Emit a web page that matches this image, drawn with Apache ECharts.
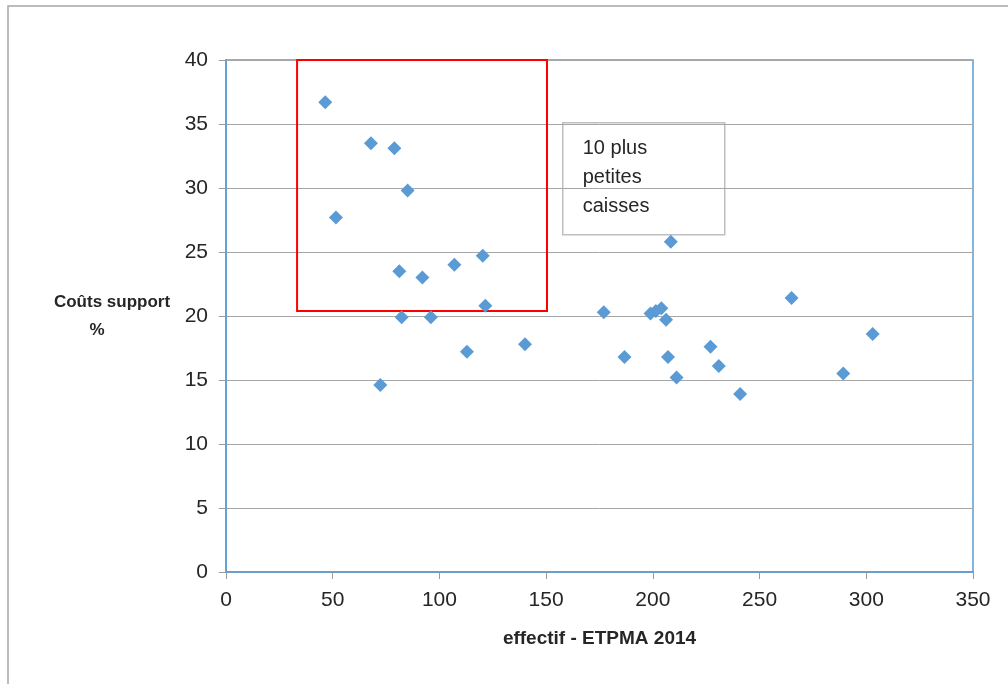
<!DOCTYPE html>
<html>
<head>
<meta charset="utf-8">
<script src="https://cdn.jsdelivr.net/npm/echarts@6/dist/echarts.min.js"></script>
<style>
  html, body { margin: 0; padding: 0; background: #ffffff; }
  #chart { width: 1008px; height: 684px; }
</style>
</head>
<body>
<div id="chart"></div>
<script>
// Effectif (ETPMA 2014) per caisse
const effectif = [
  46.5, 67.9, 78.9, 85.1, 51.5, 81.2, 92.0, 107.0, 120.3, 121.5,
  82.3, 96.0, 72.3, 112.9, 140.1, 177.0, 186.7, 198.9, 201.4, 204.0,
  206.2, 208.4, 207.1, 211.1, 227.0, 230.9, 240.9, 265.0, 289.2, 303.0
];
// Coûts support (%) per caisse
const coutsSupport = [
  36.7, 33.5, 33.1, 29.8, 27.7, 23.5, 23.0, 24.0, 24.7, 20.8,
  19.9, 19.9, 14.6, 17.2, 17.8, 20.3, 16.8, 20.2, 20.4, 20.6,
  19.7, 25.8, 16.8, 15.2, 17.6, 16.1, 13.9, 21.4, 15.5, 18.6
];
// Axis ranges and steps
const xAxisRange = [0, 350, 50];
const yAxisRange = [0, 40, 5];
// Highlighted zone: the 10 smallest caisses
const zoneCorners = [[33.3, 40.15], [150.4, 20.4]];
const zoneLabel = '10 plus\npetites\ncaisses';

const points = effectif.map((x, i) => [x, coutsSupport[i]]);

const blue = '#5b9bd5';
const font = 'Liberation Sans, Arial, sans-serif';

const chart = echarts.init(document.getElementById('chart'), null, { renderer: 'canvas' });

chart.setOption({
  backgroundColor: '#ffffff',
  animation: false,
  grid: {
    left: 226, right: 35, top: 60, bottom: 112,
    show: true, borderColor: blue, borderWidth: 1.5, backgroundColor: 'transparent'
  },
  xAxis: {
    type: 'value',
    min: xAxisRange[0], max: xAxisRange[1], interval: xAxisRange[2],
    name: 'effectif - ETPMA 2014',
    nameLocation: 'middle',
    nameGap: 57,
    nameTextStyle: { fontFamily: font, fontSize: 19, fontWeight: 'bold', color: '#262626' },
    axisLine: { show: true, onZero: false, lineStyle: { color: blue, width: 1.5 } },
    axisTick: { show: true, inside: false, length: 7, lineStyle: { color: '#9a9a9a' } },
    axisLabel: { margin: 18, fontFamily: font, fontSize: 21, color: '#262626' },
    splitLine: { show: false }
  },
  yAxis: {
    type: 'value',
    min: yAxisRange[0], max: yAxisRange[1], interval: yAxisRange[2],
    name: '{a|Coûts support}\n{b|%}',
    nameLocation: 'middle',
    nameRotate: 0,
    nameGap: 114,
    nameTextStyle: {
      fontFamily: font, fontSize: 17, fontWeight: 'bold', color: '#262626',
      align: 'center', verticalAlign: 'middle', lineHeight: 28,
      rich: {
        a: { fontFamily: font, fontSize: 17, fontWeight: 'bold', color: '#262626', lineHeight: 28 },
        b: { fontFamily: font, fontSize: 17, fontWeight: 'bold', color: '#262626', lineHeight: 28, padding: [0, 30, 0, 0] }
      }
    },
    axisLine: { show: true, lineStyle: { color: blue, width: 1.5 } },
    axisTick: { show: true, inside: false, length: 7, lineStyle: { color: '#9a9a9a' } },
    axisLabel: { margin: 18, fontFamily: font, fontSize: 21, color: '#262626' },
    splitLine: { show: true, lineStyle: { color: '#a6a6a6', width: 1 } }
  },
  series: [{
    type: 'scatter',
    data: points,
    symbol: 'diamond',
    symbolSize: [14, 14],
    itemStyle: { color: blue, opacity: 1 },
    clip: false,
    z: 5,
    markArea: {
      silent: true,
      itemStyle: { color: 'rgba(0,0,0,0)', borderColor: '#ff0000', borderWidth: 2 },
      data: [[{ coord: zoneCorners[0] }, { coord: zoneCorners[1] }]]
    }
  }],
  graphic: [
    {
      type: 'rect',
      shape: { x: 8, y: 6, width: 1100, height: 800 },
      style: { fill: 'none', stroke: '#a6a6a6', lineWidth: 1.5 },
      silent: true, z: 0
    },
    {
      type: 'group',
      left: 562, top: 122, z: 10,
      children: [
        {
          type: 'rect',
          shape: { x: 0, y: 0, width: 162, height: 112 },
          style: { fill: '#ffffff', stroke: '#bfbfbf', lineWidth: 1.5 }
        },
        {
          type: 'text',
          x: 20, y: 11,
          style: {
            text: zoneLabel, fontFamily: font, fontSize: 20, lineHeight: 29,
            fill: '#262626', textVerticalAlign: 'top'
          }
        }
      ]
    }
  ]
});
</script>
</body>
</html>
